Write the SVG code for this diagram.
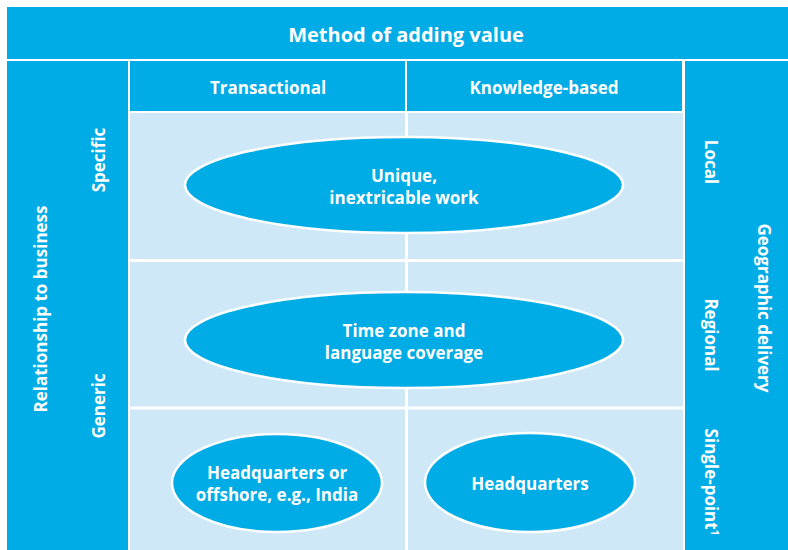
<svg xmlns="http://www.w3.org/2000/svg" width="788" height="550" viewBox="0 0 788 550">
<style>
.blue{fill:#00ACE6}
.light{fill:#CFE8F8}
.t{font-family:"Open Sans","Noto Sans","DejaVu Sans",sans-serif;font-weight:bold;fill:#FFFFFF;text-anchor:middle}
.h1{font-size:20px}
.h2{font-size:17px}
.e{font-size:17px}
.sep{stroke:#FFFFFF;stroke-width:3}
.ell{fill:#00ACE6;stroke:#FFFFFF;stroke-width:2.5}
</style>
<rect x="0" y="0" width="788" height="550" fill="#FFFFFF"/>
<g id="header">
<rect class="blue" x="7" y="7" width="781" height="52"/>
<text class="t h1" x="406" y="42">Method of adding value</text>
</g>
<g id="left-axis">
<rect class="blue" x="7" y="61" width="121" height="489"/>
<text class="t h2" transform="translate(47,309) rotate(-90)">Relationship to business</text>
<text class="t h2" transform="translate(105,160) rotate(-90)">Specific</text>
<text class="t h2" transform="translate(105,406) rotate(-90)">Generic</text>
</g>
<g id="col-transactional">
<rect class="blue" x="130" y="61" width="275" height="50"/>
<text class="t h2" x="268" y="94">Transactional</text>
</g>
<g id="col-knowledge">
<rect class="blue" x="407" y="61" width="275" height="50"/>
<text class="t h2" x="544" y="94">Knowledge-based</text>
</g>
<g id="right-axis">
<rect class="blue" x="685" y="61" width="103" height="489"/>
<text class="t h2" transform="translate(705,162) rotate(90)">Local</text>
<text class="t h2" transform="translate(705,335) rotate(90)">Regional</text>
<text class="t h2" transform="translate(705,482) rotate(90)">Single-point<tspan font-size="10" dy="-6">1</tspan></text>
<text class="t h2" transform="translate(758,308) rotate(90)">Geographic delivery</text>
</g>
<g id="grid">
<rect class="light" x="130" y="113" width="553" height="437"/>
<line class="sep" x1="406.5" y1="113" x2="406.5" y2="550"/>
<line class="sep" x1="130" y1="260.5" x2="683" y2="260.5"/>
<line class="sep" x1="130" y1="408" x2="683" y2="408"/>
</g>
<g id="unique">
<ellipse class="ell" cx="404" cy="185" rx="219" ry="48"/>
<text class="t e" x="404" y="182">Unique,</text>
<text class="t e" x="404" y="204">inextricable work</text>
</g>
<g id="timezone">
<ellipse class="ell" cx="404" cy="340" rx="219" ry="48"/>
<text class="t e" x="404" y="337">Time zone and</text>
<text class="t e" x="404" y="359">language coverage</text>
</g>
<g id="hq-offshore">
<ellipse class="ell" cx="277" cy="483" rx="105" ry="49"/>
<text class="t e" x="277" y="479">Headquarters or</text>
<text class="t e" x="277" y="501">offshore, e.g., India</text>
</g>
<g id="hq">
<ellipse class="ell" cx="530" cy="482.5" rx="105" ry="49.5"/>
<text class="t e" x="530" y="490">Headquarters</text>
</g>
<g id="connectors"></g>
</svg>
